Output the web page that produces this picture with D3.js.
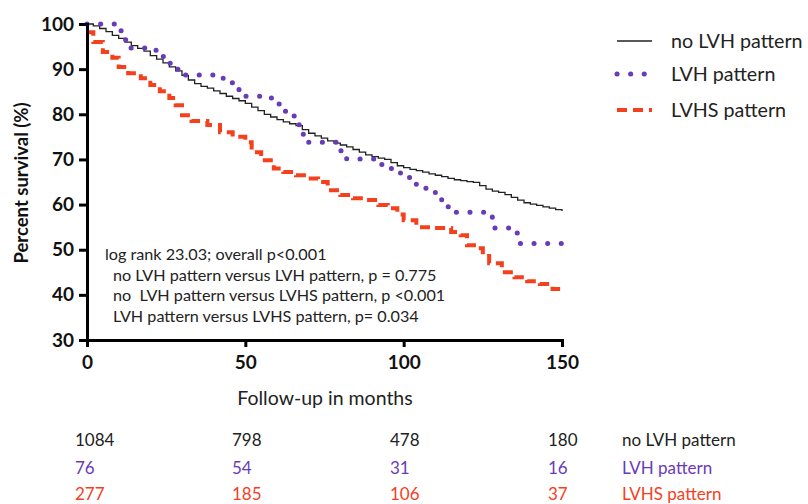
<!DOCTYPE html>
<html>
<head>
<meta charset="utf-8">
<script src="https://cdn.jsdelivr.net/npm/d3@7"></script>
<style>
  body { margin: 0; background: #fff; }
  text { font-family: Lato, "Open Sans", sans-serif; }
</style>
</head>
<body>
<svg id="chart" width="808" height="504"></svg>
<script>
// survival curves, [months, percent]
const noLvh = [[0,100],[2,99.6],[4,99.0],[6,98.3],[8,97.5],[10,96.8],[12,96.0],[14,95.2],[16,94.6],[18,94.0],[20,93.0],[22,92.2],[24,91.4],[26,90.5],[28,89.6],[30,88.6],[32,87.6],[34,86.8],[36,86.2],[38,85.8],[40,85.2],[42,84.6],[44,84.0],[46,83.5],[48,83.0],[50,82.4],[52,81.6],[54,80.8],[56,80.0],[58,79.4],[60,78.8],[62,78.3],[64,77.9],[66,77.5],[68,76.6],[70,75.8],[72,75.2],[74,74.7],[76,74.1],[78,73.6],[80,73.2],[82,72.8],[84,72.2],[86,71.6],[88,71.0],[90,70.6],[92,70.3],[94,70.0],[96,69.3],[98,68.6],[100,68.2],[102,67.8],[104,67.5],[106,67.2],[108,66.8],[110,66.5],[112,66.2],[114,65.8],[116,65.5],[118,65.3],[120,65.1],[122,64.9],[124,64.2],[126,63.4],[128,63.0],[130,62.7],[132,62.2],[134,61.6],[136,61.0],[138,60.4],[140,60.1],[142,59.8],[144,59.5],[146,59.2],[148,58.9],[150,58.6]]
const lvh = [[0,100],[10,98.5],[12,96.5],[13,94.7],[21,94.2],[23,92.8],[26,91.3],[28,90.0],[31,88.7],[43,87.0],[46,85.8],[48,84.0],[58,83.6],[59,82.3],[62,80.7],[64,79.6],[66,78.0],[67,75.6],[69,73.8],[79,71.9],[82,70.1],[93,68.9],[96,68.0],[99,66.0],[104,63.6],[110,61.5],[112,59.5],[115,58.3],[127,57.4],[128,54.8],[134,53.7],[136,51.4],[150,51.4]]
const lvhs = [[0,98.2],[2,96.0],[5,93.8],[8,92.5],[10,90.5],[13,89.1],[17,88.0],[20,86.5],[23,85.1],[26,83.6],[28,82.0],[30,79.8],[33,78.5],[38,77.6],[42,76.0],[46,75.0],[50,73.8],[52,71.6],[55,69.8],[59,68.0],[62,67.2],[66,66.5],[70,65.8],[73,65.0],[76,63.2],[80,62.1],[84,61.4],[88,61.0],[92,59.9],[95,59.2],[98,57.8],[100,56.5],[104,55.0],[109,54.8],[115,53.9],[118,53.2],[120,51.0],[123,50.3],[125,48.6],[127,47.0],[131,45.0],[135,43.9],[139,43.0],[143,42.4],[147,41.3],[150,40.4]]

const seriesNames = ['no LVH pattern', 'LVH pattern', 'LVHS pattern']
const xTicks = [0, 50, 100, 150]
const yTicks = [30, 40, 50, 60, 70, 80, 90, 100]
const statLines = [
  'log rank 23.03; overall p<0.001',
  'no LVH pattern versus LVH pattern, p = 0.775',
  'no  LVH pattern versus LVHS pattern, p <0.001',
  'LVH pattern versus LVHS pattern, p= 0.034'
]
const atRisk = [
  [1084, 798, 478, 180],
  [76, 54, 31, 16],
  [277, 185, 106, 37]
]

const colors = ['#222222', '#6a3bb8', '#f5401e']

const svg = d3.select('#chart')

const x = d3.scaleLinear().domain([0, 150]).range([87, 562])
const y = d3.scaleLinear().domain([30, 100]).range([340, 24])

const line = d3.line()
  .x(d => x(d[0]))
  .y(d => y(d[1]))
  .curve(d3.curveStepAfter)

// curves
svg.append('path').datum(noLvh)
  .attr('d', line)
  .attr('fill', 'none')
  .attr('stroke', colors[0])
  .attr('stroke-width', 1.3)

svg.append('path').datum(lvh)
  .attr('d', line)
  .attr('fill', 'none')
  .attr('stroke', colors[1])
  .attr('stroke-width', 5)
  .attr('stroke-linecap', 'round')
  .attr('stroke-dasharray', '0.1 13.5')

svg.append('path').datum(lvhs)
  .attr('d', line)
  .attr('fill', 'none')
  .attr('stroke', colors[2])
  .attr('stroke-width', 4)
  .attr('stroke-dasharray', '10 6')

// axes
const yAxis = svg.append('g')
  .attr('transform', 'translate(87,0)')
  .call(d3.axisLeft(y).tickValues(yTicks).tickSize(8).tickPadding(5))
const xAxis = svg.append('g')
  .attr('transform', 'translate(0,340)')
  .call(d3.axisBottom(x).tickValues(xTicks).tickSize(7).tickPadding(9))

for (const ax of [yAxis, xAxis]) {
  ax.select('.domain').attr('stroke', '#000').attr('stroke-width', 3)
  ax.selectAll('.tick line').attr('stroke', '#000').attr('stroke-width', 3)
  ax.selectAll('.tick text')
    .attr('fill', '#111')
    .attr('font-family', 'Lato, sans-serif')
    .attr('font-weight', 'bold')
    .attr('font-size', 19)
}

svg.append('text')
  .attr('transform', 'translate(28,183) rotate(-90)')
  .attr('text-anchor', 'middle')
  .attr('font-weight', 'bold')
  .attr('font-size', 18.5)
  .attr('fill', '#111')
  .text('Percent survival (%)')

svg.append('text')
  .attr('x', 325).attr('y', 405)
  .attr('text-anchor', 'middle')
  .attr('font-size', 19.5)
  .attr('fill', '#222')
  .text('Follow-up in months')

// stats text
svg.append('g').selectAll('text')
  .data(statLines)
  .enter().append('text')
  .attr('x', (d, i) => i === 0 ? 105 : 113)
  .attr('y', (d, i) => 260 + i * 20.6)
  .attr('font-size', 16.2)
  .attr('fill', '#222')
  .style('white-space', 'pre')
  .text(d => d)

// legend
const legend = svg.append('g')
const legendY = [41, 74, 110]
legend.selectAll('line')
  .data(seriesNames)
  .enter().append('line')
  .attr('x1', 617).attr('x2', 652)
  .attr('y1', (d, i) => legendY[i]).attr('y2', (d, i) => legendY[i])
  .attr('stroke', (d, i) => colors[i])
  .attr('stroke-width', (d, i) => [1.3, 5, 4][i])
  .attr('stroke-linecap', (d, i) => i === 1 ? 'round' : 'butt')
  .attr('stroke-dasharray', (d, i) => [null, '0.1 13.5', '10 6'][i])
legend.selectAll('text')
  .data(seriesNames)
  .enter().append('text')
  .attr('x', 671)
  .attr('y', (d, i) => legendY[i] + 7)
  .attr('font-size', 19.7)
  .attr('fill', '#222')
  .text(d => d)

// number at risk table
const colX = [75, 232, 390, 548]
const rowY = [446, 474, 500]
const tbl = svg.append('g')
atRisk.forEach((row, r) => {
  tbl.selectAll(null)
    .data(row)
    .enter().append('text')
    .attr('x', (d, i) => colX[i])
    .attr('y', rowY[r])
    .attr('font-size', 17)
    .attr('fill', r === 0 ? '#222' : colors[r])
    .text(d => d)
  tbl.append('text')
    .attr('x', 622).attr('y', rowY[r])
    .attr('font-size', 17)
    .attr('fill', r === 0 ? '#222' : colors[r])
    .text(seriesNames[r])
})
</script>
</body>
</html>
